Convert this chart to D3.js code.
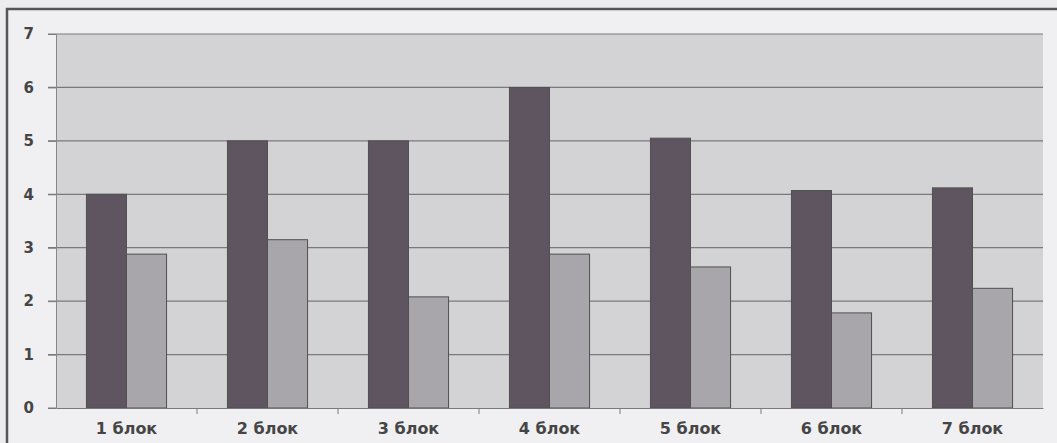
<!DOCTYPE html>
<html><head><meta charset="utf-8">
<script src="https://cdn.jsdelivr.net/npm/d3@7"></script>
<style>body{margin:0;background:#e9e9eb;} svg{display:block;}</style>
</head><body>
<script>
const categories = ["1 блок","2 блок","3 блок","4 блок","5 блок","6 блок","7 блок"];
const series = ["s1","s2"];
const seriesDark = [4, 5, 5, 6, 5.05, 4.07, 4.12];
const seriesLight = [2.88, 3.15, 2.08, 2.88, 2.64, 1.78, 2.24];
const yTicks = [0,1,2,3,4,5,6,7];
const colors = ["#5e5561", "#a8a6aa"];

const W = 1057, H = 443;
const m = {left:56, right:14, top:34, bottom:35};
const svg = d3.select("body").append("svg").attr("width", W).attr("height", H);

svg.append("rect").attr("x",0).attr("y",0).attr("width",W).attr("height",H).attr("fill","#ececee");
svg.append("rect").attr("x",7).attr("y",9).attr("width",W+20).attr("height",H+20)
  .attr("fill","#f0f0f2").attr("stroke","#555").attr("stroke-width",2.5);

const x0 = d3.scaleBand().domain(categories).range([m.left, W-m.right]);
const x1 = d3.scaleBand().domain(series).range([0, x0.bandwidth()]).paddingInner(0).paddingOuter(0.76);
const y = d3.scaleLinear().domain([0,7]).range([H-m.bottom, m.top]);

svg.append("rect").attr("x",m.left).attr("y",y(7)).attr("width",W-m.right-m.left).attr("height",y(0)-y(7)).attr("fill","#d3d3d5");

svg.append("g").selectAll("line").data(yTicks.filter(d=>d>0)).join("line")
  .attr("x1",m.left-8).attr("x2",W-m.right).attr("y1",d=>y(d)).attr("y2",d=>y(d))
  .attr("stroke","#7a7a7e").attr("stroke-width",1.2);

const yAxis = svg.append("g").attr("transform",`translate(${m.left},0)`)
  .call(d3.axisLeft(y).tickValues(yTicks).tickFormat(d3.format("d")).tickSize(8).tickPadding(14));
yAxis.select(".domain").attr("stroke","#888");
yAxis.selectAll(".tick line").attr("stroke","#7a7a7e");
yAxis.selectAll("text").attr("font-family","DejaVu Sans, sans-serif").attr("font-size",15).attr("font-weight","bold").attr("fill","#454545");

const data = categories.map((c,i)=>({c, vals:[seriesDark[i], seriesLight[i]]}));
const g = svg.append("g").selectAll("g").data(data).join("g").attr("transform",d=>`translate(${x0(d.c)},0)`);
g.selectAll("rect").data(d=>d.vals.map((v,j)=>({k:series[j], v, j}))).join("rect")
  .attr("x",d=>x1(d.k)).attr("width",x1.bandwidth())
  .attr("y",d=>y(d.v)).attr("height",d=>y(0)-y(d.v))
  .attr("fill",d=>colors[d.j]).attr("stroke","#505050").attr("stroke-width",1);

const xAxis = svg.append("g").attr("transform",`translate(0,${y(0)})`)
  .call(d3.axisBottom(x0).tickSize(0).tickPadding(15));
xAxis.select(".domain").attr("stroke","#7a7a7e").attr("stroke-width",1.2);
xAxis.selectAll("text").attr("font-family","DejaVu Sans, sans-serif").attr("font-size",16).attr("font-weight","600").attr("fill","#454545");
svg.append("g").selectAll("line").data(categories.slice(1)).join("line")
  .attr("x1",d=>x0(d)).attr("x2",d=>x0(d)).attr("y1",y(0)).attr("y2",y(0)+6)
  .attr("stroke","#7a7a7e");
svg.append("line").attr("x1",m.left-8).attr("x2",m.left).attr("y1",y(0)).attr("y2",y(0)).attr("stroke","#7a7a7e");
</script>
</body></html>
